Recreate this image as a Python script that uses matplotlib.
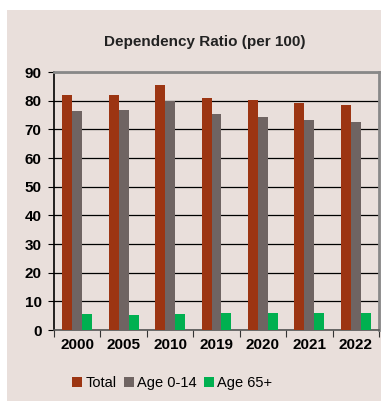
import numpy as np
import matplotlib.pyplot as plt

plt.rcParams['font.family'] = ['Liberation Sans', 'DejaVu Sans']

years = ['2000', '2005', '2010', '2019', '2020', '2021', '2022']
total = [82.0, 82.0, 85.5, 81.0, 80.2, 79.3, 78.4]
age_0_14 = [76.4, 76.7, 80.0, 75.2, 74.2, 73.2, 72.4]
age_65 = [5.6, 5.3, 5.5, 5.9, 6.0, 6.1, 6.0]

bg = '#E9DFDB'
colors = ['#9C3512', '#6F6462', '#00B050']
labels = ['Total', 'Age 0-14', 'Age 65+']

fig = plt.figure(figsize=(3.81, 4.01), dpi=100)
fig.patch.set_facecolor('white')

# panel background
back = fig.add_axes([7 / 381, 0, 1 - 7 / 381, (401 - 10) / 401])
back.set_facecolor(bg)
back.set_xticks([])
back.set_yticks([])
for s in back.spines.values():
    s.set_visible(False)
back.set_zorder(0)

ax = fig.add_axes([54 / 381, (401 - 330) / 401, (379 - 54) / 381, (330 - 72) / 401])
ax.set_facecolor('none')
ax.set_zorder(1)

x = np.arange(len(years))
w = 0.215
for i, (vals, c, lab) in enumerate(zip([total, age_0_14, age_65], colors, labels)):
    ax.bar(x + (i - 1) * w, vals, width=w, color=c, label=lab, zorder=3)

ax.set_xlim(-0.5, len(years) - 0.5)
ax.set_ylim(0, 90)
ax.set_yticks(range(0, 91, 10))
ax.yaxis.grid(True, color='black', linewidth=0.9, zorder=0)
ax.set_axisbelow(True)

ax.set_xticks(np.arange(-0.5, len(years), 1))
ax.set_xticklabels([])
ax.set_xticks(x, minor=True)
ax.set_xticklabels(years, minor=True, fontsize=11, fontweight='bold')
ax.tick_params(axis='x', which='major', direction='out', length=5, color='#333333')
ax.tick_params(axis='x', which='minor', length=0, pad=6)
ax.tick_params(axis='y', direction='out', length=4, labelsize=11, pad=5)
for t in ax.get_yticklabels():
    t.set_fontweight('bold')

ax.spines['left'].set_color('black')
ax.spines['left'].set_linewidth(1.2)
ax.spines['bottom'].set_color('#555555')
ax.spines['bottom'].set_linewidth(1.2)
ax.spines['top'].set_color('#888888')
ax.spines['top'].set_linewidth(2)
ax.spines['right'].set_color('#888888')
ax.spines['right'].set_linewidth(2)

fig.text(205 / 381, (401 - 42) / 401, 'Dependency Ratio (per 100)',
         ha='center', va='center', fontsize=11, fontweight='bold', color='#222222')

leg = fig.legend(loc='center', bbox_to_anchor=(172 / 381, (401 - 383) / 401), ncol=3,
                 frameon=False, fontsize=10.5, handlelength=0.7, handleheight=0.7,
                 handletextpad=0.2, columnspacing=0.5)
leg.set_zorder(2)

fig.savefig('out.png', dpi=100, facecolor=fig.get_facecolor())
